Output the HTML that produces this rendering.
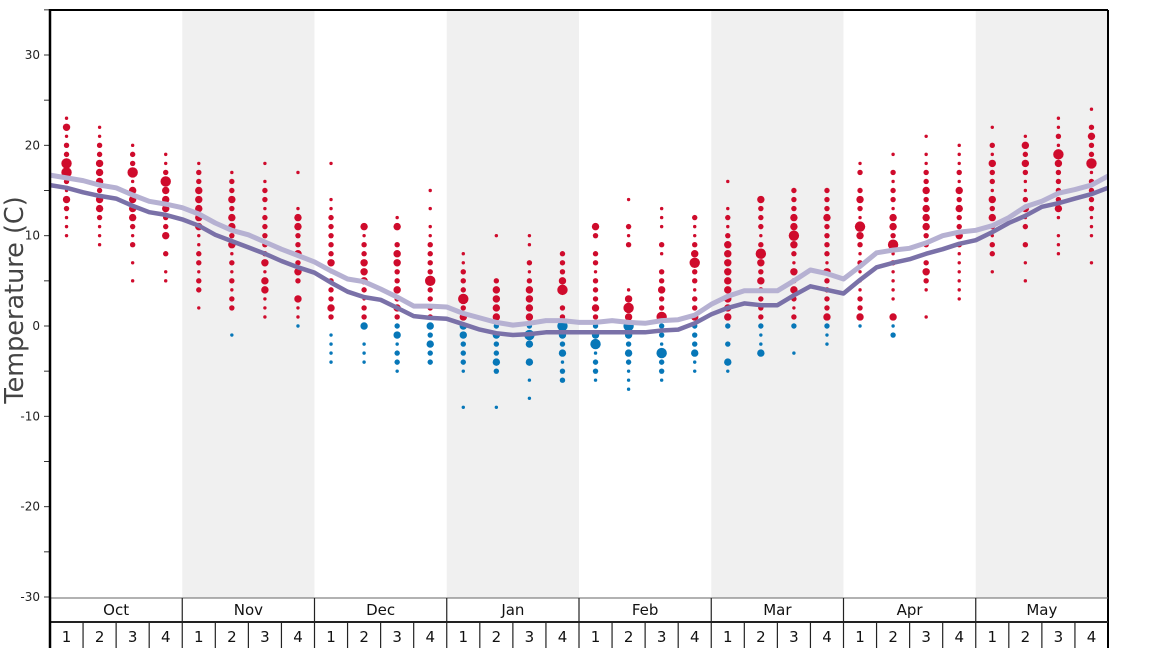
<!DOCTYPE html>
<html><head><meta charset="utf-8"><style>
html,body{margin:0;padding:0;background:#fff;}
svg{display:block;font-family:"DejaVu Sans","Liberation Sans",sans-serif;}
</style></head><body>
<svg id="chart" width="1168" height="648" viewBox="0 0 1168 648" xmlns="http://www.w3.org/2000/svg">
<g id="bands"></g>
<g id="axis"></g>
<g id="dots"></g>
<g id="lines"></g>
<g id="xaxis"></g>
</svg>
<script>
const months = ["Oct","Nov","Dec","Jan","Feb","Mar","Apr","May"];
const weekLabels = ["1","2","3","4"];
const yTicks = [30,20,10,0,-10,-20,-30];
// per week: top temperature and size codes going down 1 degree each (0 none,1 s,2 m,3 l,4 xl)
const weekTops = [23,22,20,19, 18,17,18,17, 18,11,12,15, 8,10,10,8, 11,14,13,12, 16,14,15,15, 18,19,21,20, 22,21,23,24];
const weekSizes = [
"13122442132111","11223332332111","1224133332120101","112433322302011",
"12233333112212201","1223233231212122001","101221222223133111","100013322323203111",
"10001122222312223201111","3122333212230111","130233223232231221","10101122224222232322",
"112224233322210001","10000233332322320001","1102123333243030101","222340224323122",
"320221222322341221","1002120000134343232111","11102102232242214221","211234221223222311",
"1001212333333333202031","322212432322222113","2223343213232122001","222322221322223211",
"1202321432121112231","102122133241211110312","101122323332212321001","111213232232111111",
"10213221323212201","13232112312020101","1121432222310111","102322412222111001"];
// half-week knots
const darkLine = [15.6,15.3,14.8,14.4,14.1,13.3,12.6,12.3,11.8,11.1,10.1,9.4,8.7,8.0,7.2,6.5,5.9,4.8,3.8,3.2,2.9,2.0,1.1,0.9,0.8,0.2,-0.4,-0.8,-1.0,-0.9,-0.7,-0.7,-0.7,-0.7,-0.7,-0.7,-0.7,-0.5,-0.4,0.3,1.3,2.0,2.5,2.3,2.3,3.4,4.4,4.0,3.6,5.1,6.5,7.0,7.4,8.0,8.5,9.1,9.5,10.4,11.4,12.2,13.2,13.6,14.1,14.6,15.3];
const lightLine = [16.7,16.4,16.1,15.6,15.3,14.5,13.8,13.5,13.1,12.4,11.4,10.6,10.1,9.3,8.5,7.8,7.1,6.1,5.2,4.9,4.1,3.2,2.2,2.2,2.1,1.4,0.9,0.4,0.1,0.3,0.6,0.6,0.4,0.4,0.6,0.4,0.3,0.6,0.7,1.2,2.4,3.3,3.9,3.9,3.9,5.0,6.2,5.8,5.2,6.6,8.1,8.4,8.6,9.2,10.0,10.4,10.6,11.1,12.0,13.2,13.8,14.7,15.1,15.6,16.6];

const NS="http://www.w3.org/2000/svg";
const X0=50,X1=1108,Y0=10,YB=598;
const nW=32, wW=(X1-X0)/nW;
const y=v=>326-v*9.033;
const wx=i=>X0+(i+0.5)*wW;
const kx=i=>X0+i*wW/2;
const radii=[0,1.7,2.7,3.7,5.2];
function mk(tag,attrs,parent){const e=document.createElementNS(NS,tag);for(const k in attrs)e.setAttribute(k,attrs[k]);parent.appendChild(e);return e;}
const bands=document.getElementById('bands'),axis=document.getElementById('axis'),dots=document.getElementById('dots'),lines=document.getElementById('lines'),xa=document.getElementById('xaxis');
months.forEach((m,i)=>{if(i%2===1){const r=mk('rect',{x:X0+i*4*wW,y:Y0,width:4*wW,height:YB-Y0,fill:'#f0f0f0'},bands);

}});
// y axis
for(let v=35;v>=-30;v-=5){mk('line',{x1:44,x2:50,y1:y(v),y2:y(v),stroke:'#333','stroke-width':1},axis);}
yTicks.forEach(v=>{const t=mk('text',{x:40,y:y(v)+4,'text-anchor':'end','font-size':12,fill:'#222'},axis);t.textContent=v;

});
const yt=mk('text',{x:0,y:0,transform:'translate(23,300) rotate(-90)','text-anchor':'middle','font-size':25.5,fill:'#444'},axis);yt.textContent='Temperature (C)';


// dots
weekSizes.forEach((s,i)=>{for(let j=0;j<s.length;j++){const c=+s[j];if(!c)continue;const v=weekTops[i]-j;
const d=mk('circle',{cx:wx(i),cy:y(v),r:radii[c],fill:v>0?'#cf0b2c':'#0777b8'},dots);

}});
// lines
function path(arr){return arr.map((v,i)=>(i?'L':'M')+kx(i).toFixed(1)+' '+y(v).toFixed(1)).join(' ');}
const l1=mk('path',{d:path(lightLine),fill:'none',stroke:'#b6b1d2','stroke-width':5,'stroke-linejoin':'round'},lines);


const l2=mk('path',{d:path(darkLine),fill:'none',stroke:'#7a71a8','stroke-width':4.5,'stroke-linejoin':'round'},lines);


// frame
mk('line',{x1:X0,x2:X1,y1:Y0,y2:Y0,stroke:'#000','stroke-width':2},xa);
mk('line',{x1:X1,x2:X1,y1:Y0,y2:648,stroke:'#000','stroke-width':2},xa);
mk('line',{x1:X0,x2:X1,y1:YB,y2:YB,stroke:'#666','stroke-width':1},xa);
mk('line',{x1:X0,x2:X1,y1:622,y2:622,stroke:'#222','stroke-width':2},xa);
months.forEach((m,i)=>{
 mk('line',{x1:X0+i*4*wW,x2:X0+i*4*wW,y1:YB,y2:648,stroke:'#222','stroke-width':1.2},xa);
 const t=mk('text',{x:X0+(i*4+2)*wW,y:615,'text-anchor':'middle','font-size':15,fill:'#111'},xa);t.textContent=m;
 
 
 weekLabels.forEach((w,k)=>{const idx=i*4+k;
  if(k>0)mk('line',{x1:X0+idx*wW,x2:X0+idx*wW,y1:622,y2:648,stroke:'#222','stroke-width':1.2},xa);
  const tw=mk('text',{x:wx(idx),y:642,'text-anchor':'middle','font-size':15,fill:'#111'},xa);tw.textContent=w;
  
  });
});
mk('line',{x1:X0,x2:X0,y1:Y0-1,y2:648,stroke:'#000','stroke-width':2.5},xa);
</script>
</body></html>
